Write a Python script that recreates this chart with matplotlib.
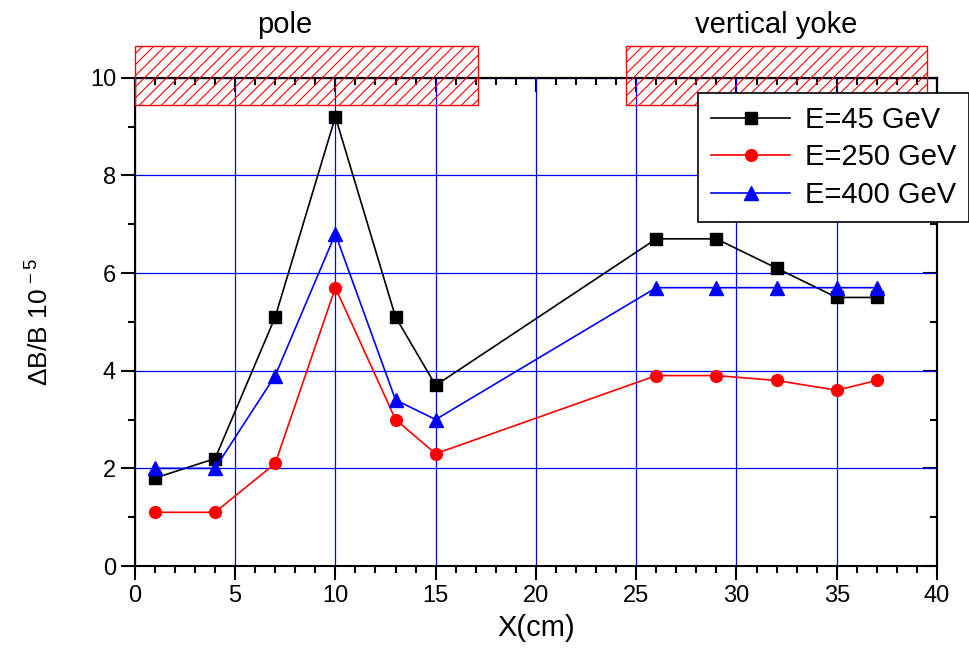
import matplotlib
matplotlib.use('Agg')
import matplotlib.pyplot as plt
from matplotlib.patches import Rectangle
from matplotlib.ticker import MultipleLocator

plt.rcParams['font.family'] = ['Liberation Sans', 'DejaVu Sans']
plt.rcParams['mathtext.fontset'] = 'custom'
plt.rcParams['mathtext.rm'] = 'Liberation Sans'
plt.rcParams['mathtext.it'] = 'Liberation Sans'
plt.rcParams['hatch.linewidth'] = 0.8

x = [1, 4, 7, 10, 13, 15, 26, 29, 32, 35, 37]
e45 = [1.8, 2.2, 5.1, 9.2, 5.1, 3.7, 6.7, 6.7, 6.1, 5.5, 5.5]
e250 = [1.1, 1.1, 2.1, 5.7, 3.0, 2.3, 3.9, 3.9, 3.8, 3.6, 3.8]
e400 = [2.0, 2.0, 3.9, 6.8, 3.4, 3.0, 5.7, 5.7, 5.7, 5.7, 5.7]

# hatched regions: (x start, x end, y start, y end, label)
pole = (0, 17.1, 9.45, 10.65, 'pole')
yoke = (24.5, 39.5, 9.45, 10.65, 'vertical yoke')

fig = plt.figure(figsize=(9.7, 6.57), dpi=100)
ax = fig.add_axes([0.139, 0.1385, 0.827, 0.7432])

ax.grid(True, which='major', color='blue', linewidth=0.9)
ax.set_axisbelow(True)

ax.plot(x, e45, '-s', color='black', lw=1.2, ms=8, label='E=45 GeV')
ax.plot(x, e250, '-o', color='red', lw=1.2, ms=8.5, label='E=250 GeV')
ax.plot(x, e400, '-^', color='blue', lw=1.2, ms=9.5, label='E=400 GeV')

for x0, x1, y0, y1, name in (pole, yoke):
    r = Rectangle((x0, y0), x1 - x0, y1 - y0, facecolor='none', edgecolor='red',
                  hatch='///', lw=1.0, clip_on=False, zorder=5)
    ax.add_patch(r)
    ax.text((x0 + x1) / 2 - 1.1 if name == 'pole' else (x0 + x1) / 2, 11.08, name,
            ha='center', va='center', fontsize=21)

ax.set_xlim(0, 40)
ax.set_ylim(0, 10)
ax.xaxis.set_major_locator(MultipleLocator(5))
ax.xaxis.set_minor_locator(MultipleLocator(1))
ax.yaxis.set_major_locator(MultipleLocator(2))
ax.yaxis.set_minor_locator(MultipleLocator(1))
ax.tick_params(which='major', direction='out', length=10, width=1.5, labelsize=17,
               top=False, right=False)
ax.tick_params(which='minor', direction='out', length=5, width=1.5,
               top=False, right=False)
for s in ax.spines.values():
    s.set_linewidth(1.5)

top = ax.secondary_xaxis('top')
top.xaxis.set_major_locator(MultipleLocator(5))
top.xaxis.set_minor_locator(MultipleLocator(1))
top.tick_params(which='major', direction='in', length=10, width=1.5, labeltop=False)
top.tick_params(which='minor', direction='in', length=5, width=1.5)
top.spines['top'].set_linewidth(1.5)

right = ax.secondary_yaxis('right')
right.yaxis.set_major_locator(MultipleLocator(2))
right.yaxis.set_minor_locator(MultipleLocator(1))
right.tick_params(which='major', direction='in', length=10, width=1.5, labelright=False)
right.tick_params(which='minor', direction='in', length=5, width=1.5)
right.spines['right'].set_linewidth(1.5)

ax.set_xlabel('X(cm)', fontsize=21, labelpad=5)
ax.set_ylabel(r'$\Delta$B/B 10$^{\,-5}$', fontsize=19, labelpad=26)

leg = fig.legend(loc='upper right', bbox_to_anchor=(0.999, 0.859), fontsize=21,
                 fancybox=False, edgecolor='black', framealpha=1,
                 handlelength=2.7, borderpad=0.45, labelspacing=0.33,
                 handletextpad=0.5, borderaxespad=0)
leg.get_frame().set_linewidth(1.2)
leg.set_zorder(10)

fig.savefig('out.png', dpi=100)
